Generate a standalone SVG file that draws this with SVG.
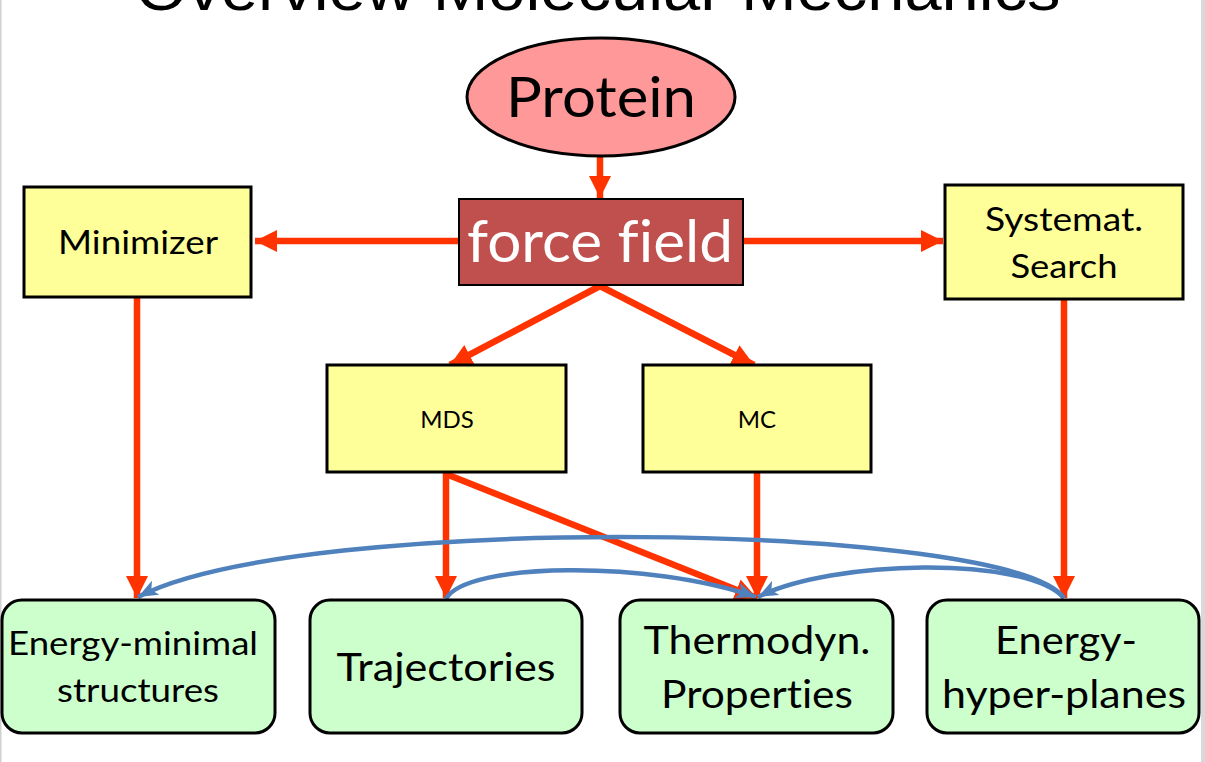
<svg xmlns="http://www.w3.org/2000/svg" width="1205" height="762" viewBox="0 0 1205 762">
<style>
.box{fill:#FFFF99;stroke:#000;stroke-width:3}
.res{fill:#CCFFCC;stroke:#000;stroke-width:3}
.red{stroke:#FF3300;stroke-width:6.5;fill:none}
.blue{stroke:#4F81BD;stroke-width:4.5;fill:none}
.t{font-family:Lato,"Open Sans",sans-serif;fill:#000;text-anchor:middle;font-variant-ligatures:none;font-feature-settings:"liga" 0,"clig" 0}
</style>
<defs>
<marker id="ra" markerUnits="userSpaceOnUse" markerWidth="24" markerHeight="22" refX="22" refY="11" orient="auto"><path d="M0,0 L22,11 L0,22 z" fill="#FF3300"/></marker>
<marker id="ba" markerUnits="userSpaceOnUse" markerWidth="22" markerHeight="16" refX="20" refY="8" orient="auto"><path d="M0,0 L20,8 L0,16 L5,8 z" fill="#4F81BD"/></marker>
</defs>
<rect x="0" y="0" width="1205" height="762" fill="#fff"/>
<rect x="0" y="0" width="1.5" height="762" fill="#D0D0D0"/>
<rect x="1201" y="0" width="4" height="762" fill="#D9D9D9"/>
<text x="598" y="10" font-family="'Liberation Sans',Arial,sans-serif" font-size="62" text-anchor="middle" textLength="925" lengthAdjust="spacingAndGlyphs">Overview Molecular Mechanics</text>

<g id="connectors">
<line class="red" x1="600" y1="157" x2="600" y2="198" marker-end="url(#ra)"/>
<line class="red" x1="459" y1="241" x2="255" y2="241" marker-end="url(#ra)"/>
<line class="red" x1="743" y1="241" x2="943" y2="241" marker-end="url(#ra)"/>
<line class="red" x1="600" y1="286" x2="450" y2="365" marker-end="url(#ra)"/>
<line class="red" x1="600" y1="286" x2="754" y2="365" marker-end="url(#ra)"/>
<line class="red" x1="137" y1="297" x2="137" y2="598" marker-end="url(#ra)"/>
<line class="red" x1="1064" y1="299" x2="1064" y2="598" marker-end="url(#ra)"/>
<line class="red" x1="446" y1="472" x2="446" y2="598" marker-end="url(#ra)"/>
<line class="red" x1="757" y1="472" x2="757" y2="598" marker-end="url(#ra)"/>
<line class="red" x1="446" y1="474" x2="757" y2="598" marker-end="url(#ra)"/>
<path class="blue" d="M1064,598 C1010,522 300,512 138,597" marker-end="url(#ba)"/>
<path class="blue" d="M446,599 C465,562 650,560 756,597" marker-end="url(#ba)"/>
<path class="blue" d="M1064,598 C1025,555 830,560 758,597" marker-end="url(#ba)"/>
</g>

<g id="protein">
<ellipse cx="601" cy="97" rx="134" ry="59" fill="#FF9999" stroke="#000" stroke-width="3"/>
<text class="t" x="601" y="117" font-size="57" textLength="190" lengthAdjust="spacingAndGlyphs">Protein</text>
</g>
<g id="forcefield">
<rect x="459" y="199" width="284" height="86" fill="#C0504D" stroke="#000" stroke-width="2"/>
<text class="t" x="600" y="262" font-size="58" style="fill:#fff" textLength="266" lengthAdjust="spacingAndGlyphs">force field</text>
</g>
<g id="minimizer">
<rect class="box" x="24" y="187" width="227" height="110"/>
<text class="t" x="138" y="254" font-size="33" textLength="160" lengthAdjust="spacingAndGlyphs">Minimizer</text>
</g>
<g id="systemat">
<rect class="box" x="945" y="185" width="238" height="114"/>
<text class="t" x="1064" y="231" font-size="33" textLength="158" lengthAdjust="spacingAndGlyphs">Systemat.</text>
<text class="t" x="1064" y="278" font-size="33" textLength="107" lengthAdjust="spacingAndGlyphs">Search</text>
</g>
<g id="mds">
<rect class="box" x="327" y="365" width="239" height="107"/>
<text class="t" x="447" y="428" font-size="24">MDS</text>
</g>
<g id="mc">
<rect class="box" x="643" y="365" width="228" height="107"/>
<text class="t" x="757" y="428" font-size="24">MC</text>
</g>
<g id="energymin">
<rect class="res" x="2" y="600" width="273" height="133" rx="20"/>
<text class="t" x="133" y="655" font-size="33" textLength="250" lengthAdjust="spacingAndGlyphs">Energy-minimal</text>
<text class="t" x="138" y="702" font-size="33" textLength="162" lengthAdjust="spacingAndGlyphs">structures</text>
</g>
<g id="trajectories">
<rect class="res" x="310" y="600" width="272" height="133" rx="20"/>
<text class="t" x="446" y="681" font-size="39" textLength="219" lengthAdjust="spacingAndGlyphs">Trajectories</text>
</g>
<g id="thermodyn">
<rect class="res" x="620" y="600" width="273" height="133" rx="20"/>
<text class="t" x="757" y="654" font-size="39" textLength="227" lengthAdjust="spacingAndGlyphs">Thermodyn.</text>
<text class="t" x="757" y="708" font-size="39" textLength="192" lengthAdjust="spacingAndGlyphs">Properties</text>
</g>
<g id="hyperplanes">
<rect class="res" x="927" y="600" width="272" height="133" rx="20"/>
<text class="t" x="1066" y="654" font-size="39" textLength="142" lengthAdjust="spacingAndGlyphs">Energy-</text>
<text class="t" x="1064" y="708" font-size="39" textLength="244" lengthAdjust="spacingAndGlyphs">hyper-planes</text>
</g>
</svg>
